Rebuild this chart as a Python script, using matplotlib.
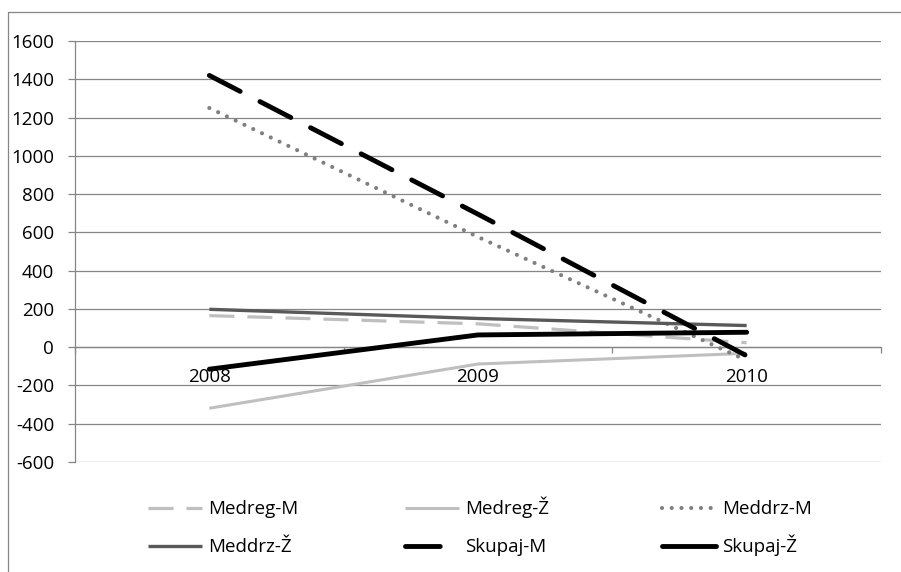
import matplotlib
matplotlib.use("Agg")
import matplotlib.pyplot as plt
from matplotlib.lines import Line2D

plt.rcParams['font.family'] = ['Open Sans', 'DejaVu Sans']
plt.rcParams['lines.scale_dashes'] = False

years = ['2008', '2009', '2010']
medreg_m = [165, 122, 23]
medreg_z = [-319, -88, -32]
meddrz_m = [1250, 576, -69]
meddrz_z = [198, 150, 113]
skupaj_m = [1420, 695, -45]
skupaj_z = [-115, 64, 78]
labels = ['Medreg-M', 'Medreg-Ž', 'Meddrz-M', 'Meddrz-Ž', 'Skupaj-M', 'Skupaj-Ž']
yticks = list(range(-600, 1601, 200))

FS = 13.5
GRID = '#868686'
W, H = 901, 572

fig = plt.figure(figsize=(9.01, 5.72), dpi=100)
ax = fig.add_axes([75/W, 1-462/H, (881-75)/W, (462-41)/H])

x = list(range(len(years)))
styles = [
    dict(color='#BFBFBF', lw=2.3, dashes=(18, 9.4), dash_capstyle='butt'),
    dict(color='#BFBFBF', lw=2.2, solid_capstyle='butt'),
    dict(color='#808080', lw=3.0, dashes=(0.01, 7.0), dash_capstyle='round'),
    dict(color='#595959', lw=2.4, solid_capstyle='butt'),
    dict(color='#000000', lw=3.5, dashes=(25, 16), dash_capstyle='round'),
    dict(color='#000000', lw=3.5, solid_capstyle='round'),
]
series = [medreg_m, medreg_z, meddrz_m, meddrz_z, skupaj_m, skupaj_z]
for s, st, lab in zip(series, styles, labels):
    ax.plot(x, s, label=lab, **st, zorder=3)

ax.set_xlim(-0.5, 2.5)
ax.set_ylim(-600, 1600)
ax.set_yticks(yticks)
ax.set_yticklabels([str(v) for v in yticks])
ax.set_xticks(x)
ax.set_xticklabels(years)
ax.set_xticks([-0.5, 0.5, 1.5, 2.5], minor=True)
ax.yaxis.grid(True, color=GRID, lw=0.9)
ax.set_axisbelow(True)

for sp in ['top', 'right']:
    ax.spines[sp].set_visible(False)
ax.spines['bottom'].set_position(('data', 0))
for sp in ['bottom', 'left']:
    ax.spines[sp].set_color(GRID)
    ax.spines[sp].set_linewidth(0.9)

ax.tick_params(axis='y', length=5, width=0.9, color=GRID, pad=10, labelsize=FS)
ax.tick_params(axis='x', which='major', length=0, pad=15, labelsize=FS)
ax.tick_params(axis='x', which='minor', length=4.5, width=0.9, color=GRID, direction='out')

# legend: 2 rows x 3 columns, laid out manually for exact alignment
text_x = [208, 465, 722]
row_line_y = [508, 546]
row_base_y = [514.5, 552.5]
for k, (lab, st) in enumerate(zip(labels, styles)):
    r, c = divmod(k, 3)
    tx = text_x[c]
    fig.add_artist(Line2D([(tx-60)/W, (tx-6)/W], [1-row_line_y[r]/H]*2,
                          transform=fig.transFigure, **st))
    fig.text(tx/W, 1-row_base_y[r]/H, lab, fontsize=FS, ha='left', va='baseline')

# outer chart border
fig.add_artist(Line2D([8/W, 8/W, 1.0], [0.0, 1-12/H, 1-12/H],
                      transform=fig.transFigure, color=GRID, lw=0.9))

fig.savefig('out.png', dpi=100)
